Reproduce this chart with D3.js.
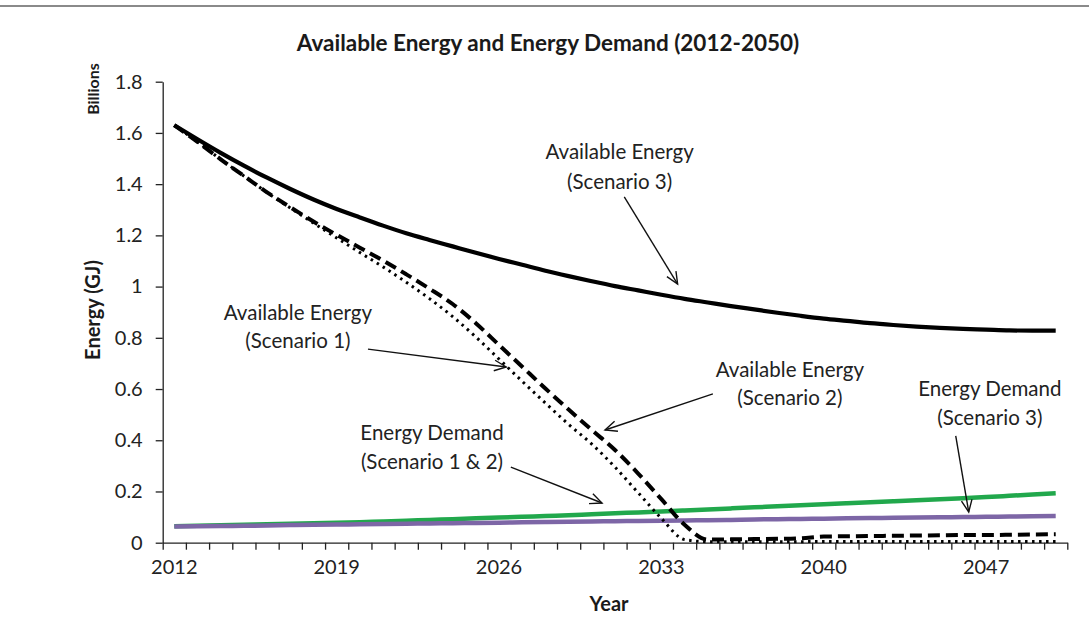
<!DOCTYPE html>
<html><head><meta charset="utf-8">
<script src="https://cdn.jsdelivr.net/npm/d3@7"></script>
<style>body{margin:0;background:#fff}svg{display:block}</style>
</head><body><svg id="c" width="1089" height="639"></svg>
<script>
const years = [2012,2013,2014,2015,2016,2017,2018,2019,2020,2021,2022,2023,2024,2025,2026,2027,2028,2029,2030,2031,2032,2033,2034,2035,2036,2037,2038,2039,2040,2041,2042,2043,2044,2045,2046,2047,2048,2049,2050];
const labelYears = [2012,2019,2026,2033,2040,2047];
const yTicks = [0,0.2,0.4,0.6,0.8,1,1.2,1.4,1.6,1.8];
const yTickLabels = ["0","0.2","0.4","0.6","0.8","1","1.2","1.4","1.6","1.8"];

const availableS3 = [1.630,1.575,1.522,1.472,1.425,1.381,1.340,1.303,1.270,1.238,1.208,1.182,1.157,1.132,1.108,1.085,1.062,1.041,1.021,1.002,0.985,0.968,0.952,0.938,0.924,0.911,0.898,0.886,0.875,0.866,0.857,0.850,0.844,0.839,0.835,0.832,0.829,0.828,0.828];
const availableS2 = [1.630,1.565,1.497,1.432,1.368,1.310,1.254,1.202,1.152,1.102,1.048,0.992,0.932,0.857,0.772,0.687,0.602,0.520,0.440,0.362,0.270,0.170,0.070,0.012,0.013,0.014,0.015,0.017,0.024,0.025,0.026,0.027,0.028,0.029,0.030,0.030,0.031,0.032,0.033];
const availableS1 = [1.630,1.565,1.497,1.432,1.367,1.307,1.248,1.190,1.133,1.077,1.017,0.953,0.883,0.803,0.717,0.630,0.545,0.462,0.385,0.295,0.195,0.095,0.012,0.004,0.004,0.004,0.004,0.004,0.005,0.005,0.005,0.005,0.005,0.005,0.005,0.005,0.005,0.005,0.005];
const demandS12 = [0.064,0.066,0.068,0.070,0.072,0.074,0.076,0.078,0.080,0.083,0.086,0.089,0.092,0.095,0.098,0.101,0.104,0.107,0.111,0.115,0.118,0.122,0.126,0.130,0.134,0.138,0.142,0.146,0.150,0.154,0.158,0.162,0.166,0.170,0.174,0.178,0.183,0.188,0.193];
const demandS3 = [0.063,0.064,0.065,0.066,0.067,0.069,0.070,0.071,0.072,0.073,0.074,0.075,0.076,0.077,0.078,0.080,0.081,0.082,0.083,0.084,0.085,0.086,0.087,0.088,0.089,0.091,0.092,0.093,0.094,0.095,0.096,0.097,0.098,0.099,0.100,0.101,0.102,0.103,0.104];

// annotations: text centre (year, value) for two lines, arrow from/to in data space
const annotations = [
  {lines:["Available Energy","(Scenario 3)"], tx:2031.2, ty:[1.525,1.408], from:[2031.4,1.35], to:[2033.7,1.01]},
  {lines:["Available Energy","(Scenario 1)"], tx:2017.33, ty:[0.896,0.787], from:[2020.35,0.756], to:[2026.31,0.686]},
  {lines:["Available Energy","(Scenario 2)"], tx:2038.54, ty:[0.674,0.565], from:[2035.22,0.581], to:[2030.57,0.44]},
  {lines:["Energy Demand","(Scenario 1 & 2)"], tx:2023.11, ty:[0.428,0.315], from:[2026.51,0.295], to:[2030.44,0.155]},
  {lines:["Energy Demand","(Scenario 3)"], tx:2047.16, ty:[0.600,0.487], from:[2045.69,0.417], to:[2046.25,0.12]}
];

const svg = d3.select("#c");
const FONT = "Lato, 'Open Sans', sans-serif";
const x = d3.scaleBand().domain(years).range([162.7,1067.3]).padding(0);
const xi = d3.scaleLinear().domain([0, years.length]).range(x.range());
const y = d3.scaleLinear().domain([0,1.8]).range([542.7,81.7]);
const px = yr => xi(yr - years[0] + 0.5);

// top border
svg.append("line").attr("x1",0).attr("x2",1089).attr("y1",6).attr("y2",6)
  .attr("stroke","#8a8a8a").attr("stroke-width",2);

// title
svg.append("text").attr("x",548).attr("y",51).attr("text-anchor","middle")
  .style("font-family",FONT).style("font-weight","bold").style("font-size","22.5px").attr("fill","#1a1a1a")
  .text("Available Energy and Energy Demand (2012-2050)");

// y axis
const gy = svg.append("g").attr("transform","translate(162.7,0)")
  .call(d3.axisLeft(y).tickValues(yTicks).tickSize(7).tickPadding(13).tickSizeOuter(0)
    .tickFormat((d,i)=>yTickLabels[i]));
gy.selectAll("text").style("font-family",FONT).style("font-size","20px").attr("fill","#222");
gy.selectAll("line,path").attr("stroke","#222").attr("stroke-width",1.3);

// x axis ticks (between categories)
const gx = svg.append("g").attr("transform","translate(0,542.7)")
  .call(d3.axisBottom(xi).tickValues(d3.range(years.length+1)).tickSize(7).tickSizeOuter(0).tickFormat(""));
gx.selectAll("line,path").attr("stroke","#222").attr("stroke-width",1.3);
const gxl = svg.append("g").attr("transform","translate(0,542.7)")
  .call(d3.axisBottom(x).tickValues(labelYears).tickSize(0).tickPadding(17));
gxl.select(".domain").remove();
gxl.selectAll("text").style("font-family",FONT).style("font-size","20px").attr("fill","#222");

// axis titles
svg.append("text").attr("x",609).attr("y",611).attr("text-anchor","middle")
  .style("font-family",FONT).style("font-weight","bold").style("font-size","20px").attr("fill","#1a1a1a").text("Year");
svg.append("text").attr("transform","translate(100,310) rotate(-90)").attr("text-anchor","middle")
  .style("font-family",FONT).style("font-weight","bold").style("font-size","20px").attr("fill","#1a1a1a").text("Energy (GJ)");
svg.append("text").attr("transform","translate(99,89) rotate(-90)").attr("text-anchor","middle")
  .style("font-family",FONT).style("font-weight","bold").style("font-size","16px").attr("fill","#1a1a1a").text("Billions");

// series
const line = d3.line().x((d,i)=>x(years[i])+x.bandwidth()/2).y(d=>y(d)).curve(d3.curveMonotoneX);
const series = [
  {v:demandS12, stroke:"#21a84c", w:4.5, dash:null},
  {v:demandS3, stroke:"#7d66a6", w:4.5, dash:null},
  {v:availableS1, stroke:"#000", w:3, dash:"2.5,4.5"},
  {v:availableS2, stroke:"#000", w:4, dash:"12,6"},
  {v:availableS3, stroke:"#000", w:4.2, dash:null}
];
svg.append("g").selectAll("path").data(series).join("path")
  .attr("d",d=>line(d.v)).attr("fill","none").attr("stroke",d=>d.stroke)
  .attr("stroke-width",d=>d.w).attr("stroke-dasharray",d=>d.dash)
  .attr("stroke-linejoin","round");

// annotations
const ga = svg.append("g");
annotations.forEach(a=>{
  a.lines.forEach((t,i)=>{
    ga.append("text").attr("x",px(a.tx)).attr("y",y(a.ty[i])).attr("dy","0.35em")
      .attr("text-anchor","middle").style("font-family",FONT).style("font-size","20.5px")
      .attr("fill","#222").text(t);
  });
  const x1=px(a.from[0]), y1=y(a.from[1]), x2=px(a.to[0]), y2=y(a.to[1]);
  ga.append("line").attr("x1",x1).attr("y1",y1).attr("x2",x2).attr("y2",y2)
    .attr("stroke","#111").attr("stroke-width",1.4);
  const ang = Math.atan2(y2-y1,x2-x1), L=13, sp=0.42;
  const p = [[x2-L*Math.cos(ang-sp), y2-L*Math.sin(ang-sp)],[x2,y2],[x2-L*Math.cos(ang+sp), y2-L*Math.sin(ang+sp)]];
  ga.append("path").attr("d",d3.line()(p)).attr("fill","none").attr("stroke","#111").attr("stroke-width",1.4);
});
</script></body></html>
